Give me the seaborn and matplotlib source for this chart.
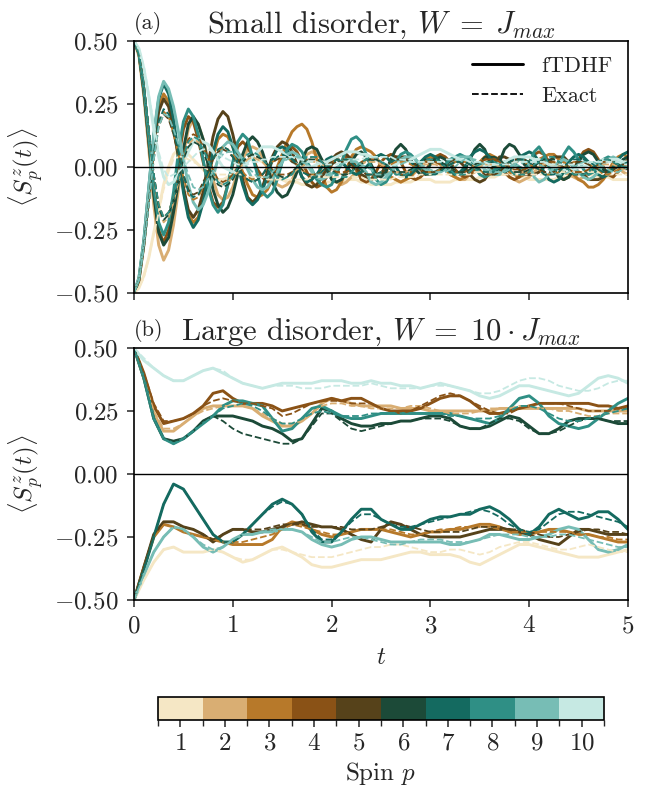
import numpy as np
import pandas as pd
import matplotlib
matplotlib.use('Agg')
import matplotlib.pyplot as plt
import seaborn as sns
from matplotlib.colors import ListedColormap, BoundaryNorm
from matplotlib.cm import ScalarMappable
from matplotlib.lines import Line2D

# spin colours 1..10
SPINS = list(range(1, 11))
SPIN_COLORS = ['#f5e7c5', '#d9ae73', '#b7792a', '#8a5216', '#56421a',
               '#1c4a38', '#146a60', '#2f8f85', '#77bdb5', '#c6e9e3']

DT_A = 0.05   # sampling step of panel (a)
DT_B = 0.1    # sampling step of panel (b)

# ---- panel (a): small disorder, values in units of 0.01 ----
a_tdhf_1 = [-50, -48, -43, -36, -26, -17, -7, 0, 5, 7,
            6, 5, 3, 1, -1, -3, -4, -5,
            -5, -4, -2, 0, 1, 3, 3,
            3, 2, 0, -2, -3, -5, -6, -6,
            -6, -7, -7, -7, -7, -7, -6, -6, -6, -6, -5, -5, -5, -6, -6, -7, -7,
            -7, -7, -7, -6, -6, -6, -6, -5, -5, -5, -5, -6, -6, -6, -6, -5, -5,
            -5, -5, -5, -4, -4, -4, -4, -3, -3, -3, -3, -4, -4, -5, -5, -5, -5,
            -5, -5, -4, -4, -4, -3, -3, -3, -3, -3, -4, -4, -4, -5, -5, -5, -5]
a_tdhf_2 = [50, 44, 28, 7, -15, -31, -37, -33, -23, -9, 5, 15, 19,
            17, 11, 3, -5, -11, -13, -12, -8, -2, 3, 7, 8,
            7, 4, 0, -4, -7, -8, -7, -5, -1, 3, 5, 6,
            5, 3, 0, -4, -6, -7, -6, -4, -2, 1, 3, 4,
            3, 2, -1, -4, -5, -6, -5, -4, -2, 1, 2, 3,
            2, 1, -1, -3, -4, -5, -5, -3, -2, 0, 2, 2,
            1, 0, -2, -4, -5, -6, -5, -4, -2, 0, 1, 2,
            2, 0, -2, -3, -4, -5, -4, -3, -1, 1, 2, 3,
            2, 0, -2, -3]
a_tdhf_3 = [-50, -45, -30, -10, 9, 24, 29, 26, 16, 4, -9, -19, -22,
            -20, -13, -4, 4, 11, 13, 12, 8, 3, -2, -7, -11, -12,
            -11, -9, -5, 0, 5, 10, 14, 16, 17,
            15, 10, 3, -3, -8, -10, -9, -6, -1, 4, 7, 8,
            7, 6, 4, 1, -2, -4, -5, -6, -5, -4, -1, 2, 3, 4,
            3, 2, 0, -3, -4, -5, -4, -3, 0, 2, 4, 5,
            4, 3, 1, -2, -3, -4, -3, -2, 0, 3, 4, 5,
            5, 3, 2, 0, -3, -5, -6, -8, -8, -7, -5, -2, 2, 4, 5,
            4]
a_tdhf_4 = [50, 45, 30, 10, -10, -25, -30, -25, -13, 3, 15, 20,
            18, 11, 2, -7, -14, -16, -14, -7, 1, 8, 10,
            8, 4, -1, -4, -6, -4, -1, 3, 7, 8,
            6, 2, -2, -6, -8, -7, -4, 1, 4, 5,
            4, 1, -1, -5, -6, -5, -2, 2, 4, 5,
            4, 2, -2, -4, -5, -4, -2, 2, 4, 5,
            4, 2, -1, -3, -4, -3, -1, 1, 3, 4,
            3, 1, -2, -4, -5, -4, -1, 2, 5, 6,
            5, 2, -1, -4, -5, -4, -1, 3, 6, 7,
            6, 3, 0, -3, -4, -2, 1, 3]
a_tdhf_5 = [-50, -45, -31, -11, 8, 22, 27, 24, 15, 4, -8, -17, -20,
            -17, -10, 1, 12, 19, 22, 20, 13, 4, -5, -12, -14,
            -12, -8, -2, 4, 8, 10, 9, 6, 1, -4, -7, -8,
            -7, -4, -1, 3, 5, 6, 5, 3, 0, -3, -4, -5,
            -4, -3, 0, 2, 4, 4, 4, 2, 1, -1, -3, -3,
            -2, -1, 0, 2, 3, 2, 0, -3, -5, -6,
            -5, -2, 1, 4, 4, 3, 1, -1, -3, -3,
            -3, -2, 0, 2, 4, 4, 4, 2, 0, -2, -3, -5, -5,
            -5, -4, -2, -1, 1, 2, 2]
a_tdhf_6 = [50, 45, 30, 10, -11, -26, -31, -28, -18, -6, 7, 17, 20,
            17, 11, 1, -9, -15, -18, -16, -11, -3, 5, 10, 12,
            10, 6, 0, -6, -10, -12, -11, -7, -2, 3, 7, 8,
            7, 3, -1, -5, -6, -5, -2, 2, 5, 6,
            4, 1, -3, -4, -2, 3, 7, 9, 7, 3, -1, -3,
            -2, 1, 3, 4, 3, 1, -2, -3, -1, 3, 7, 9,
            7, 2, 0, 2, 7, 9, 8, 5, 1, 0, 1, 2, 3,
            2, -1, -4, -5, -4, -1, 2, 5, 6, 5, 2, -1, -2,
            -1, 1, 3, 4]
a_tdhf_7 = [-50, -44, -29, -8, 12, 27, 33, 29, 19, 5, -10, -20, -24,
            -21, -14, -4, 6, 13, 16, 14, 8, 1, -7, -13, -15,
            -13, -9, -4, 3, 7, 8,
            7, 3, 1, -4, -6, -5, -3, 0, 3, 4,
            3, 2, 0, -2, -3, -2, 0, 2, 4, 5,
            4, 2, 0, -3, -4, -3, -1, 2, 4, 5,
            4, 2, 0, -2, -3, -2, 0, 4, 6, 7,
            6, 4, 1, -1, -2, -1, 1, 4, 5, 6,
            5, 2, -2, -5, -6, -5, -2, 2, 4, 5,
            4, 2, -1, -3, -4, -3, 0, 3, 5, 6]
a_tdhf_8 = [50, 45, 31, 12, -8, -22, -27, -22, -10, 6, 18, 23,
            20, 13, 3, -8, -15, -18, -15, -7, 2, 10, 13,
            11, 4, -3, -10, -12, -10, -5, 2, 7, 9,
            8, 6, 2, -1, -5, -7, -8, -7, -3, 2, 7, 11, 12,
            10, 5, 0, -5, -7, -6, -3, 2, 5, 6,
            5, 3, 0, -2, -3, -2, -1, 1, 3, 4, 5,
            4, 2, 0, -3, -4, -3, -1, 0, 2, 2,
            1, 0, -1, 1, 6, 8, 5, 0, -2, 0, 5, 8,
            6, 3, -1, -3, -2, 1, 3, 4, 3, 2, 1, 0]
a_tdhf_9 = [-50, -44, -29, -8, 13, 28, 34, 31, 24, 14, 3, -7, -14, -17,
            -15, -10, -4, 3, 8, 10, 9, 6, 3, -1, -5, -8, -9,
            -8, -5, -2, 2, 5, 6, 5, 3, 1, -2, -4, -5,
            -4, -3, -1, 1, 3, 3, 2, 0, -2, -6, -7,
            -6, -4, -2, 1, 3, 4, 4, 3, 1, -1, -2, -2,
            -2, -1, 1, 2, 4, 4, 4, 2, 1, -1, -2, -3,
            -3, -1, 0, 1, 3, 3, 1, -4, -6,
            -5, -3, 0, 2, 3, 2, 0, -2, -4, -5,
            -4, -2, 1, 3, 4, 3, 1, 0]
a_tdhf_10 = [50, 47, 39, 28, 15, 4, -4, -7, -6, -3, 2, 6, 10, 11,
             10, 9, 6, 3, 0, -1, -2, -1, 0, 2, 4, 6, 8, 8,
             8, 7, 6, 4, 2, 1, 0, 0, 0, 1, 2, 2, 3, 4, 5, 6, 6,
             6, 5, 5, 4, 3, 2, 1, 1, 1, 2, 2, 3, 4, 5, 6, 7, 7,
             7, 6, 5, 4, 3, 2, 1, 0, 0, 0, 1, 1, 2, 2, 3, 4, 4, 4,
             4, 3, 3, 2, 1, 0, 0, -1, -1, -1, 0, 0, 1, 1, 2, 3, 3, 3,
             3, 2, 2]

a_exact_1 = [-50, -48, -44, -36, -27, -18, -9, -2, 3, 4,
             4, 3, 2, 1, 0, -1, -2, -3, -3,
             -3, -3, -3, -3, -4, -4, -4, -4, -5, -5,
             -5, -5, -5, -5, -5, -5, -5, -4, -4, -4, -4, -4,
             -4, -4, -4, -4, -4, -4, -5, -5, -5, -5,
             -5, -5, -4, -4, -4, -4, -4, -3, -3, -3,
             -3, -3, -3, -3, -3, -3, -3, -3, -2, -2,
             -2, -2, -2, -2, -3, -3, -3, -3, -3, -3,
             -3, -3, -3, -2, -2, -2, -2, -2, -2, -2,
             -2, -2, -2, -2, -3, -3, -3, -3, -3, -3]
a_exact_2 = [50, 45, 32, 14, -4, -17, -22, -20, -14, -6, 3, 9, 11,
             10, 7, 2, -3, -6, -7, -6, -4, -2, 1, 3, 4,
             3, 2, 0, -2, -3, -4, -4, -3, -1, 0, 2, 2,
             2, 1, 0, -1, -2, -3, -3, -2, 0, 1, 2, 2,
             2, 1, 0, -1, -2, -2, -2, -1, 0, 0, 1, 1,
             1, 0, 0, -1, -2, -2, -2, -1, 0, 0, 1, 1,
             1, 0, 0, -1, -2, -2, -2, -1, 0, 0, 1, 1,
             1, 0, 0, -1, -2, -2, -2, -1, 0, 0, 1, 1,
             1, 0, -1, -1]
a_exact_3 = [-50, -45, -32, -14, 4, 17, 22, 20, 13, 5, -4, -11, -13,
             -12, -8, -3, 3, 6, 8, 7, 5, 2, -2, -4, -5,
             -4, -3, 0, 2, 3, 4, 4, 2, 1, -1, -3, -3,
             -3, -2, 0, 1, 3, 3, 3, 2, 0, -1, -3, -3,
             -3, -2, 0, 1, 2, 2, 2, 1, 0, -1, -2, -2,
             -2, -1, 0, 1, 2, 2, 2, 1, 0, -1, -3, -3,
             -3, -2, 0, 1, 2, 2, 2, 1, 0, -1, -3, -3,
             -3, -2, 0, 1, 2, 2, 2, 1, 0, -1, -3, -3,
             -2, -1, 0, 1]
a_exact_4 = [50, 45, 33, 15, -3, -15, -20, -18, -12, -4, 5, 11, 13,
             12, 8, 4, -1, -5, -6, -5, -3, 0, 2, 4, 5,
             4, 3, 1, -1, -3, -3, -3, -2, 0, 2, 3, 4,
             4, 2, 1, -1, -2, -2, -2, -1, 0, 2, 3, 3,
             3, 2, 0, -1, -3, -3, -3, -2, 0, 1, 2, 2,
             2, 1, 0, -1, -2, -2, -2, -1, 0, 2, 3, 3,
             3, 2, 1, 0, -1, -1, -1, 0, 0, 1, 2, 2,
             2, 1, 0, -1, -2, -2, -2, -1, 0, 1, 2, 2,
             2, 1, 0, -1]
a_exact_5 = [-50, -45, -32, -15, 3, 16, 21, 19, 13, 5, -3, -9, -11,
             -10, -6, -2, 3, 6, 7, 6, 4, 1, -3, -5, -6,
             -5, -3, -1, 2, 3, 4, 4, 2, 1, -1, -3, -3,
             -3, -2, 0, 1, 2, 2, 2, 1, 0, -1, -3, -3,
             -3, -2, 0, 2, 3, 3, 3, 2, 1, -1, -2, -2,
             -2, -1, 0, 1, 2, 2, 2, 1, 0, -1, -3, -3,
             -3, -2, 0, 2, 3, 3, 3, 2, 1, -1, -2, -2,
             -2, -1, 0, 1, 2, 2, 2, 1, 0, -1, -2, -2,
             -1, 0, 1, 1]
a_exact_6 = [50, 45, 32, 15, -3, -16, -21, -19, -13, -5, 3, 8, 10,
             9, 6, 1, -4, -7, -8, -7, -5, -1, 2, 4, 5,
             4, 3, 1, -2, -3, -4, -4, -2, 0, 1, 3, 3,
             3, 2, 0, -1, -3, -3, -3, -2, 0, 1, 3, 3,
             3, 2, 1, -1, -2, -2, -2, -1, 0, 2, 3, 3,
             3, 2, 1, -1, -2, -2, -2, -1, 1, 2, 4, 4,
             4, 3, 1, -1, -2, -2, -2, -1, 0, 2, 3, 3,
             3, 2, 0, -1, -3, -3, -3, -2, 0, 2, 3, 3,
             2, 1, 0, -1]
a_exact_7 = [-50, -45, -31, -14, 5, 18, 23, 21, 14, 6, -3, -10, -12,
             -11, -7, -2, 3, 7, 8, 7, 4, 1, -3, -5, -6,
             -5, -3, 0, 2, 4, 5, 4, 3, 1, -2, -3, -4,
             -4, -2, 0, 1, 3, 3, 3, 2, 0, -1, -3, -3,
             -3, -2, 0, 2, 3, 3, 3, 2, 0, -1, -3, -3,
             -3, -2, 0, 1, 2, 2, 2, 1, 0, -1, -2, -2,
             -2, -1, 1, 2, 3, 3, 3, 2, 0, -1, -3, -3,
             -3, -2, 0, 2, 3, 3, 3, 2, 1, -1, -2, -2,
             -1, 0, 1, 2]
a_exact_8 = [50, 45, 33, 15, -3, -15, -20, -18, -12, -4, 4, 10, 12,
             11, 7, 3, -2, -6, -7, -6, -4, 0, 3, 5, 6,
             5, 3, 1, -2, -4, -5, -4, -3, 0, 2, 4, 4,
             4, 2, 0, -2, -3, -4, -4, -2, 0, 2, 3, 4,
             4, 2, 1, -1, -3, -3, -3, -2, 0, 1, 3, 3,
             3, 2, 0, -1, -3, -3, -3, -2, 0, 1, 2, 2,
             2, 1, 0, -1, -3, -3, -3, -2, 1, 2, 4, 4,
             4, 2, 0, -1, -3, -3, -3, -2, 0, 2, 3, 3,
             2, 1, 0, 0]
a_exact_9 = [-50, -45, -32, -15, 3, 16, 21, 20, 15, 9, 3, -3, -8, -9,
             -8, -5, -2, 3, 5, 6, 6, 4, 2, 0, -2, -4, -4,
             -4, -2, 0, 2, 3, 4, 4, 2, 1, -1, -3, -3,
             -3, -2, 0, 1, 2, 2, 2, 1, 0, -1, -3, -3,
             -3, -2, 0, 1, 2, 2, 2, 1, 0, -1, -2, -2,
             -2, -1, 0, 2, 3, 3, 3, 2, 1, -1, -2, -2,
             -2, -1, 0, 1, 2, 2, 2, 1, 0, -1, -3, -3,
             -3, -2, 0, 1, 2, 2, 2, 1, 0, -1, -2, -2,
             -1, 0]
a_exact_10 = [50, 47, 40, 29, 17, 6, -1, -4, -3, -2, 0, 2, 4, 6, 7,
              7, 6, 5, 4, 3, 2, 1, 1, 1, 2, 2, 3, 3, 4, 4, 4,
              4, 4, 3, 3, 2, 2, 2, 1, 1, 1,
              1, 2, 2, 3, 3, 3, 4, 4, 4, 4,
              4, 4, 3, 3, 3, 2, 2, 2, 2, 2,
              2, 2, 3, 3, 3, 3, 3, 2, 2, 2,
              2, 1, 1, 1, 1, 1, 2, 2, 2, 2,
              2, 2, 2, 1, 1, 1, 1, 1, 1, 1,
              1, 2, 2, 2, 2, 2, 2, 2, 1, 1]

# ---- panel (b): large disorder, values in units of 0.01 ----
b_tdhf_1 = [-50, -42, -35, -30, -29, -31, -31, -31, -30, -31, -33, -35, -34, -32, -30, -29, -31,
            -33, -36, -37, -37, -36, -35, -34, -34, -34, -33, -32, -31, -31, -32, -32, -32, -33,
            -35, -36, -34, -32, -30, -28, -28, -29, -30, -31, -32, -33, -33, -33, -32, -31, -30]
b_tdhf_2 = [50, 38, 24, 17, 17, 20, 23, 26, 27, 27, 27, 27, 26, 23, 21, 19, 19, 21, 24, 28, 30,
            29, 28, 27, 27, 27, 27, 26, 26, 26, 25, 25, 25, 25, 25, 25, 25, 26, 26, 26, 26, 26,
            26, 26, 26, 26, 25, 25, 25, 25, 25]
b_tdhf_3 = [-50, -37, -25, -20, -21, -23, -24, -25, -26, -27, -28, -28, -28, -28, -26, -21, -19,
            -20, -22, -24, -25, -24, -23, -22, -22, -22, -23, -24, -25, -24, -23, -23, -22, -22,
            -21, -20, -20, -21, -23, -24, -24, -23, -22, -22, -23, -24, -24, -25, -26, -27, -27]
b_tdhf_4 = [50, 40, 27, 20, 21, 22, 24, 27, 32, 33, 30, 28, 28, 28, 27, 25, 26, 27, 28, 29, 30,
            29, 30, 30, 28, 26, 25, 25, 25, 26, 28, 30, 31, 31, 29, 26, 24, 24, 25, 26, 27, 28,
            28, 28, 28, 28, 28, 27, 27, 26, 27]
b_tdhf_5 = [-50, -37, -24, -19, -19, -21, -22, -24, -27, -24, -22, -22, -23, -23, -22, -21, -20,
            -19, -20, -21, -21, -22, -24, -26, -27, -22, -19, -20, -22, -24, -25, -25, -25, -25,
            -24, -23, -22, -22, -22, -23, -24, -26, -27, -28, -25, -22, -22, -23, -24, -24, -24]
b_tdhf_6 = [50, 38, 22, 14, 13, 14, 17, 21, 23, 23, 23, 22, 21, 19, 18, 16, 13, 14, 20, 26, 25,
            22, 20, 19, 19, 20, 20, 21, 21, 22, 23, 23, 22, 19, 18, 18, 19, 21, 23, 22, 19, 16,
            16, 18, 21, 22, 22, 22, 21, 20, 20]
b_tdhf_7 = [-50, -38, -25, -12, -4, -6, -12, -18, -24, -27, -27, -24, -20, -16, -12, -10, -12,
            -16, -23, -27, -27, -23, -18, -14, -14, -18, -20, -22, -22, -20, -18, -17, -17, -16,
            -16, -14, -13, -15, -18, -22, -24, -21, -16, -14, -16, -18, -17, -15, -15, -18, -22]
b_tdhf_8 = [50, 38, 22, 14, 12, 14, 17, 20, 23, 27, 29, 29, 28, 27, 22, 17, 18, 22, 26, 27, 25,
            23, 22, 22, 23, 24, 24, 24, 24, 24, 24, 24, 24, 23, 22, 21, 20, 22, 26, 30, 31, 28,
            23, 20, 19, 18, 19, 22, 25, 28, 30]
b_tdhf_9 = [-50, -40, -31, -25, -21, -22, -25, -29, -31, -29, -26, -24, -24, -23, -23, -22, -22,
            -23, -26, -28, -29, -28, -26, -25, -25, -26, -27, -27, -27, -27, -27, -27, -28, -28,
            -27, -26, -24, -24, -25, -26, -26, -25, -24, -22, -21, -22, -26, -30, -31, -30, -28]
b_tdhf_10 = [50, 45, 42, 39, 37, 37, 39, 41, 42, 40, 38, 36, 35, 34, 35, 36, 36, 36, 36, 37, 37,
             37, 36, 36, 37, 36, 36, 35, 35, 34, 35, 36, 35, 34, 33, 31, 30, 31, 33, 35, 35, 34,
             33, 32, 31, 32, 35, 38, 39, 38, 36]

b_exact_1 = [-50, -42, -35, -30, -29, -31, -31, -31, -30, -31, -33, -34, -34, -32, -30, -30, -31,
             -32, -33, -33, -33, -32, -31, -30, -29, -29, -28, -28, -29, -30, -31, -31, -30, -30,
             -31, -32, -31, -29, -28, -27, -27, -28, -29, -30, -30, -29, -28, -29, -30, -31, -31]
b_exact_2 = [50, 38, 25, 18, 18, 20, 23, 25, 26, 27, 27, 27, 26, 24, 22, 20, 20, 21, 24, 27, 28,
             28, 27, 27, 26, 26, 26, 26, 27, 27, 26, 25, 24, 24, 24, 25, 26, 26, 26, 27, 27, 26,
             26, 25, 25, 24, 23, 23, 24, 24, 24]
b_exact_3 = [-50, -37, -25, -20, -21, -23, -24, -25, -26, -27, -27, -27, -26, -25, -24, -22, -20,
             -21, -22, -23, -24, -24, -23, -22, -22, -22, -22, -23, -24, -24, -23, -22, -22, -21,
             -21, -21, -21, -22, -23, -23, -23, -23, -23, -23, -23, -24, -24, -25, -25, -26, -26]
b_exact_4 = [50, 40, 28, 21, 21, 22, 24, 27, 29, 30, 29, 28, 28, 27, 26, 23, 24, 26, 28, 29, 29,
             29, 28, 28, 28, 26, 25, 24, 25, 27, 29, 31, 32, 31, 29, 27, 25, 24, 24, 26, 27, 28,
             28, 28, 27, 26, 25, 25, 25, 26, 26]
b_exact_5 = [-50, -37, -24, -19, -19, -21, -22, -24, -26, -24, -22, -22, -22, -22, -21, -20, -20,
             -20, -21, -21, -21, -21, -22, -22, -22, -21, -20, -20, -21, -22, -23, -23, -23, -23,
             -22, -21, -21, -21, -22, -22, -23, -24, -25, -25, -24, -23, -22, -22, -23, -23, -24]
b_exact_6 = [50, 38, 22, 14, 13, 14, 17, 21, 23, 21, 18, 16, 15, 14, 13, 12, 12, 14, 19, 24, 24,
             21, 18, 17, 18, 19, 20, 21, 21, 22, 22, 22, 21, 19, 18, 18, 20, 22, 22, 21, 18, 16,
             16, 17, 19, 21, 22, 22, 21, 21, 21]
b_exact_7 = [-50, -38, -25, -12, -4, -6, -12, -18, -24, -27, -27, -24, -20, -16, -13, -11, -12,
             -16, -22, -26, -26, -23, -19, -16, -16, -18, -20, -21, -21, -20, -19, -18, -17, -16,
             -15, -14, -15, -17, -20, -22, -23, -22, -19, -16, -15, -15, -16, -17, -18, -19, -21]
b_exact_8 = [50, 38, 22, 14, 12, 14, 17, 20, 23, 26, 27, 28, 27, 25, 22, 20, 20, 22, 24, 25, 24,
             23, 23, 23, 24, 24, 24, 24, 24, 24, 24, 24, 23, 23, 22, 22, 22, 23, 25, 27, 27, 26,
             24, 22, 21, 21, 22, 23, 24, 25, 26]
b_exact_9 = [-50, -40, -31, -25, -21, -22, -25, -28, -30, -29, -26, -24, -24, -23, -22, -22, -22,
             -23, -25, -27, -27, -26, -25, -25, -26, -27, -28, -28, -27, -26, -26, -26, -27, -27,
             -27, -26, -25, -24, -24, -24, -25, -25, -25, -24, -24, -25, -26, -27, -28, -29, -29]
b_exact_10 = [50, 46, 42, 39, 37, 37, 39, 41, 42, 41, 38, 36, 35, 34, 35, 35, 35, 34, 34, 34, 35,
              35, 35, 35, 36, 35, 34, 34, 34, 34, 35, 35, 35, 34, 33, 32, 32, 33, 35, 37, 38, 38,
              37, 35, 34, 33, 33, 34, 36, 37, 37]

A_TDHF = [a_tdhf_1, a_tdhf_2, a_tdhf_3, a_tdhf_4, a_tdhf_5,
          a_tdhf_6, a_tdhf_7, a_tdhf_8, a_tdhf_9, a_tdhf_10]
A_EXACT = [a_exact_1, a_exact_2, a_exact_3, a_exact_4, a_exact_5,
           a_exact_6, a_exact_7, a_exact_8, a_exact_9, a_exact_10]
B_TDHF = [b_tdhf_1, b_tdhf_2, b_tdhf_3, b_tdhf_4, b_tdhf_5,
          b_tdhf_6, b_tdhf_7, b_tdhf_8, b_tdhf_9, b_tdhf_10]
B_EXACT = [b_exact_1, b_exact_2, b_exact_3, b_exact_4, b_exact_5,
           b_exact_6, b_exact_7, b_exact_8, b_exact_9, b_exact_10]

sns.set_theme(style='ticks')
plt.rcParams['font.family'] = 'serif'
plt.rcParams['font.serif'] = ['cmr10']
plt.rcParams['mathtext.fontset'] = 'cm'
plt.rcParams['axes.formatter.use_mathtext'] = True
plt.rcParams['axes.unicode_minus'] = True
plt.rcParams['axes.linewidth'] = 1.2
plt.rcParams['axes.edgecolor'] = 'black'

PAL = dict(zip(SPINS, SPIN_COLORS))


def long_frame(curves, dt):
    rows = []
    for spin, vals in zip(SPINS, curves):
        for i, v in enumerate(vals):
            rows.append((round(i * dt, 3), v / 100.0, spin))
    return pd.DataFrame(rows, columns=['t', 'Sz', 'spin'])


def draw_panel(ax, tdhf, exact, dt):
    sns.lineplot(data=long_frame(tdhf, dt), x='t', y='Sz', hue='spin',
                 hue_order=SPINS, palette=PAL, estimator=None,
                 linewidth=2.1, legend=False, ax=ax)
    sns.lineplot(data=long_frame(exact, dt), x='t', y='Sz', hue='spin',
                 hue_order=SPINS, palette=PAL, estimator=None,
                 linewidth=1.3, linestyle='--', legend=False, ax=ax)
    ax.axhline(0, color='black', lw=1.0, zorder=5)
    ax.set_xlim(0, 5)
    ax.set_ylim(-0.5, 0.5)
    ax.set_yticks([-0.5, -0.25, 0, 0.25, 0.5])
    ax.set_xticks([0, 1, 2, 3, 4, 5])
    ax.set_ylabel(r'$\langle S_p^z(t)\rangle$', fontsize=18, labelpad=6)
    ax.tick_params(direction='out', length=5, width=1.1, labelsize=18, pad=6)
    for s in ax.spines.values():
        s.set_linewidth(1.2)
        s.set_color('black')


fig = plt.figure(figsize=(6.47, 7.91), dpi=100)
ax_a = fig.add_axes([0.2071, 0.6296, 0.7635, 0.3186])
ax_b = fig.add_axes([0.2071, 0.2415, 0.7635, 0.3186])

draw_panel(ax_a, A_TDHF, A_EXACT, DT_A)
ax_a.set_xlabel('')
ax_a.set_xticklabels([])
ax_a.set_title(r'Small disorder, $W\;=\;J_{max}$', fontsize=22, pad=6)
ax_a.text(0.0, 1.025, '(a)', transform=ax_a.transAxes, ha='left', va='bottom', fontsize=16)
handles = [Line2D([], [], color='black', lw=2.1),
           Line2D([], [], color='black', lw=1.3, ls='--')]
ax_a.legend(handles, ['fTDHF', 'Exact'], loc='upper right', frameon=False,
            fontsize=16, handlelength=2.3, labelspacing=0.45, borderaxespad=0.3,
            handletextpad=0.8)

draw_panel(ax_b, B_TDHF, B_EXACT, DT_B)
ax_b.set_xlabel(r'$t$', fontsize=18, labelpad=7)
ax_b.tick_params(axis='x', pad=6)
ax_b.set_title(r'Large disorder, $W\;=\;10\cdot J_{max}$', fontsize=22, pad=6)
ax_b.text(0.0, 1.025, '(b)', transform=ax_b.transAxes, ha='left', va='bottom', fontsize=16)

# discrete colorbar for the spin index
cax = fig.add_axes([0.2442, 0.0898, 0.6893, 0.0291])
cmap = ListedColormap(SPIN_COLORS)
norm = BoundaryNorm(np.arange(0.5, 11.5, 1.0), cmap.N)
cb = fig.colorbar(ScalarMappable(norm=norm, cmap=cmap), cax=cax,
                  orientation='horizontal', ticks=SPINS)
cb.outline.set_linewidth(1.2)
cb.ax.tick_params(direction='out', length=5, width=1.1, labelsize=18, pad=4)
cb.set_label(r'Spin $p$', fontsize=18, labelpad=4)

fig.savefig('out.png', dpi=100)
